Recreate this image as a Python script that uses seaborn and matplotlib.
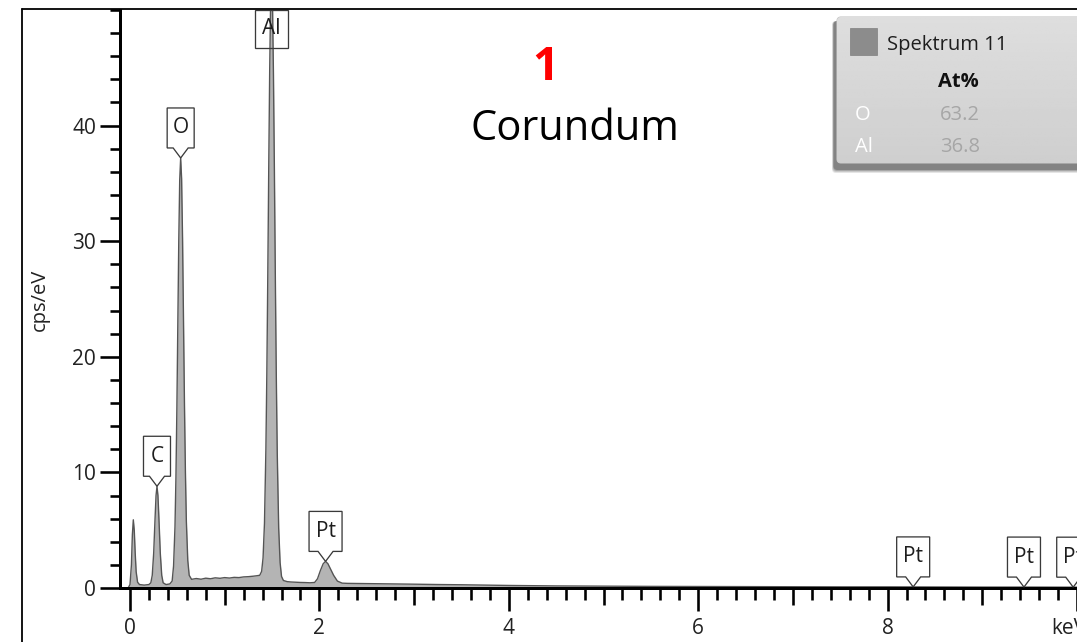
import numpy as np
import matplotlib
matplotlib.use("Agg")
import matplotlib.pyplot as plt
import matplotlib.transforms as mtransforms
from matplotlib.patches import Polygon, Rectangle, FancyBboxPatch
from matplotlib.ticker import FixedLocator, MultipleLocator
import seaborn as sns

# EDS spectrum: energy (keV) and intensity (cps/eV)
energy_kev = [
    -0.020, 0.000, 0.015, 0.025, 0.035, 0.045, 0.055, 0.065, 0.080, 0.100,
    0.150, 0.200, 0.220, 0.235, 0.250, 0.265, 0.275, 0.285, 0.295, 0.305,
    0.320, 0.335, 0.350, 0.380, 0.420, 0.445, 0.460, 0.475, 0.485, 0.495,
    0.505, 0.515, 0.525, 0.535, 0.545, 0.555, 0.565, 0.575, 0.585, 0.595,
    0.610, 0.625, 0.650, 0.700, 0.750, 0.800, 0.850, 0.900, 0.950, 1.000,
    1.050, 1.100, 1.150, 1.200, 1.250, 1.300, 1.340, 1.370, 1.390, 1.405,
    1.420, 1.435, 1.445, 1.455, 1.465, 1.475, 1.485, 1.495, 1.505, 1.515,
    1.525, 1.535, 1.545, 1.555, 1.570, 1.585, 1.600, 1.620, 1.660, 1.700,
    1.750, 1.800, 1.850, 1.900, 1.950, 1.980, 2.010, 2.040, 2.065, 2.090,
    2.120, 2.150, 2.190, 2.240, 2.300, 2.400, 2.600, 2.800, 3.000, 3.250,
    3.500, 3.750, 4.000, 4.500, 5.000, 5.500, 6.000, 6.500, 7.000, 7.500,
    8.000, 8.500, 9.000, 9.500, 10.000, 10.200,
]
intensity = [
    0.00, 0.30, 2.00, 4.60, 5.90, 5.00, 3.00, 1.40, 0.50, 0.30,
    0.25, 0.30, 0.45, 1.10, 3.00, 6.10, 8.00, 8.80, 8.00, 6.10,
    3.00, 1.10, 0.45, 0.30, 0.35, 0.60, 1.90, 5.30, 9.50, 15.50,
    22.80, 30.00, 35.30, 37.20, 35.40, 30.20, 23.10, 16.00, 10.10, 5.80,
    2.40, 1.10, 0.75, 0.82, 0.76, 0.85, 0.80, 0.88, 0.84, 0.90,
    0.86, 0.92, 0.90, 0.96, 0.98, 1.02, 1.06, 1.10, 1.44, 2.60,
    5.60, 12.00, 18.60, 27.00, 36.30, 44.70, 50.80, 53.00, 50.40, 44.30,
    35.90, 26.60, 18.20, 11.60, 5.20, 2.20, 1.00, 0.65, 0.55, 0.52,
    0.50, 0.48, 0.47, 0.45, 0.48, 0.80, 1.50, 2.10, 2.30, 2.10,
    1.60, 1.10, 0.60, 0.42, 0.40, 0.39, 0.37, 0.35, 0.33, 0.30,
    0.28, 0.25, 0.22, 0.18, 0.16, 0.14, 0.13, 0.12, 0.11, 0.10,
    0.10, 0.09, 0.08, 0.08, 0.07, 0.07,
]

# Identified X-ray lines
line_symbols = ["C", "O", "Al", "Pt", "Pt", "Pt", "Pt"]
line_energies = [0.285, 0.535, 1.495, 2.065, 8.27, 9.44, 9.96]

# Quantification table
spectrum_name = "Spektrum 11"
quant_elements = ["O", "Al"]
quant_at_pct = ["63.2", "36.8"]

sample_number = "1"
sample_name = "Corundum"

x_ticks = [0, 1, 2, 3, 4, 5, 6, 7, 8, 9, 10]
x_tick_labels = ["0", "", "2", "", "4", "", "6", "", "8", "", "keV"]
y_ticks = [0, 10, 20, 30, 40]
y_tick_labels = ["0", "10", "20", "30", "40"]

sns.set_theme(style="white")
plt.rcParams["font.family"] = ["Open Sans", "DejaVu Sans"]

W, H = 1077, 642
PT = 0.72  # points per pixel at 100 dpi
fig = plt.figure(figsize=(W / 100, H / 100), dpi=100)
fig.patch.set_facecolor("white")

# axes geometry in pixels
X0_PX, KEV_PX = 130.0, 94.7
AX_LEFT_PX, Y0_PX, YTOP_PX = 120.0, 588.0, 10.0
x_min = (AX_LEFT_PX - X0_PX) / KEV_PX
x_max = 10.15
ax_right_px = X0_PX + x_max * KEV_PX
ax = fig.add_axes([AX_LEFT_PX / W, (H - Y0_PX) / H,
                   (ax_right_px - AX_LEFT_PX) / W, (Y0_PX - YTOP_PX) / H])
ax.set_facecolor("none")

# spectrum
ax.fill_between(energy_kev, intensity, 0, color="#b4b4b4", linewidth=0, zorder=1)
sns.lineplot(x=energy_kev, y=intensity, ax=ax, color="#555555", linewidth=1.0,
             estimator=None, sort=False, zorder=2)

ax.set_xlim(x_min, x_max)
ax.set_ylim(0, 50)
ax.set_xlabel("")
ax.set_ylabel("")

for side in ["top", "right"]:
    ax.spines[side].set_visible(False)
for side in ["left", "bottom"]:
    ax.spines[side].set_linewidth(3 * PT)
    ax.spines[side].set_color("black")

ax.xaxis.set_major_locator(FixedLocator(x_ticks))
ax.set_xticklabels(x_tick_labels)
ax.xaxis.set_minor_locator(MultipleLocator(0.2))
ax.yaxis.set_major_locator(FixedLocator(y_ticks))
ax.set_yticklabels(y_tick_labels)
ax.yaxis.set_minor_locator(MultipleLocator(2))

ax.tick_params(axis="x", which="major", direction="out", bottom=True,
               length=17 * PT, width=2.6 * PT, color="black",
               pad=13 * PT, labelsize=15, labelcolor="#222222")
ax.tick_params(axis="x", which="minor", direction="out", bottom=True,
               length=12 * PT, width=2.6 * PT, color="black")
ax.tick_params(axis="y", which="major", direction="out", left=True,
               length=20 * PT, width=2.6 * PT, color="black",
               pad=4 * PT, labelsize=15, labelcolor="#222222")
ax.tick_params(axis="y", which="minor", direction="out", left=True,
               length=10 * PT, width=2.6 * PT, color="black")
for tick, loc in zip(ax.xaxis.get_major_ticks(), x_ticks):
    if loc % 2 == 0:
        tick.tick1line.set_markersize(23 * PT)
    if x_tick_labels[loc] == "keV":
        lab = tick.label1
        lab.set_transform(lab.get_transform() +
                          mtransforms.ScaledTranslation(-0.08, 0, fig.dpi_scale_trans))

# overlay in pixel coordinates (origin top-left)
ov = fig.add_axes([0, 0, 1, 1], zorder=5)
ov.set_xlim(0, W)
ov.set_ylim(H, 0)
ov.set_axis_off()

# outer frame
ov.plot([22, 22], [9, H + 5], color="black", lw=1.8 * PT, clip_on=False)
ov.plot([22, W + 5], [9, 9], color="black", lw=1.8 * PT, clip_on=False)

ov.text(40, 300, "cps/eV", rotation=90, ha="center", va="center",
        fontsize=14.5, color="#222222")

# line markers
BOX_H, NOTCH_W, NOTCH_D = 40.0, 7.5, 10.0
for sym, e in zip(line_symbols, line_energies):
    tip_val = float(np.interp(e, energy_kev, intensity))
    px, py = ax.transData.transform((e, tip_val))
    tx, ty = px, H - py
    w = 21 + 6 * len(sym)
    hw = w / 2
    if ty - NOTCH_D - BOX_H < YTOP_PX:
        top = YTOP_PX
        verts = [(tx - hw, top), (tx + hw, top), (tx + hw, top + 38), (tx - hw, top + 38)]
        cy = top + 19
    else:
        verts = [(tx, ty), (tx - NOTCH_W, ty - NOTCH_D), (tx - hw, ty - NOTCH_D),
                 (tx - hw, ty - NOTCH_D - BOX_H), (tx + hw, ty - NOTCH_D - BOX_H),
                 (tx + hw, ty - NOTCH_D), (tx + NOTCH_W, ty - NOTCH_D)]
        cy = ty - NOTCH_D - BOX_H / 2
    ov.add_patch(Polygon(verts, closed=True, fill=False, edgecolor="#3a3a3a",
                         linewidth=1.3 * PT, clip_on=False))
    ov.text(tx, cy, sym, ha="center", va="center", fontsize=15, color="#1e1e1e",
            clip_on=False)

# sample annotation
ov.text(545, 80, sample_number, ha="center", va="baseline", fontsize=33,
        fontweight="bold", color="#ff0000")
ov.text(575, 140, sample_name, ha="center", va="baseline", fontsize=30,
        color="black")

# quantification panel with drop shadow
PX0, PY0, PX1, PY1 = 837, 17, 1100, 163
for i, a in enumerate([0.10, 0.12, 0.16, 0.22]):
    grow = 4 - i
    ov.add_patch(FancyBboxPatch((PX0 - 3 - grow * 0.5, PY0 + 4), (PX1 - PX0) + grow,
                                (PY1 - PY0) + 2 + grow,
                                boxstyle="round,pad=0,rounding_size=4",
                                facecolor="black", edgecolor="none", alpha=a,
                                clip_on=False))
panel = FancyBboxPatch((PX0, PY0), PX1 - PX0, PY1 - PY0,
                       boxstyle="round,pad=0,rounding_size=4",
                       facecolor="#d6d6d6", edgecolor="#c4c4c4", linewidth=0.8,
                       clip_on=False)
ov.add_patch(panel)
grad = np.linspace(0.87, 0.81, 64).reshape(-1, 1)
img = ov.imshow(grad, cmap="gray", vmin=0, vmax=1, aspect="auto",
                extent=[PX0, PX1, PY1, PY0], zorder=panel.get_zorder() + 0.1)
img.set_clip_path(panel)
ov.set_xlim(0, W)
ov.set_ylim(H, 0)

ov.add_patch(Rectangle((850, 28), 27, 27, facecolor="#8c8c8c", edgecolor="#7f7f7f",
                       linewidth=0.5, zorder=3))
ov.text(887, 50, spectrum_name, ha="left", va="baseline", fontsize=14.5,
        color="#1e1e1e", zorder=3)
ov.text(938, 87, "At%", ha="left", va="baseline", fontsize=14.5,
        fontweight="bold", color="#111111", zorder=3)
for row, (el, val) in enumerate(zip(quant_elements, quant_at_pct)):
    yb = 120 + row * 32
    ov.text(855, yb, el, ha="left", va="baseline", fontsize=14.5, color="white", zorder=3)
    ov.text(940, yb, val, ha="left", va="baseline", fontsize=14.5, color="#a6a6a6", zorder=3)

fig.savefig("out.png", dpi=100)
